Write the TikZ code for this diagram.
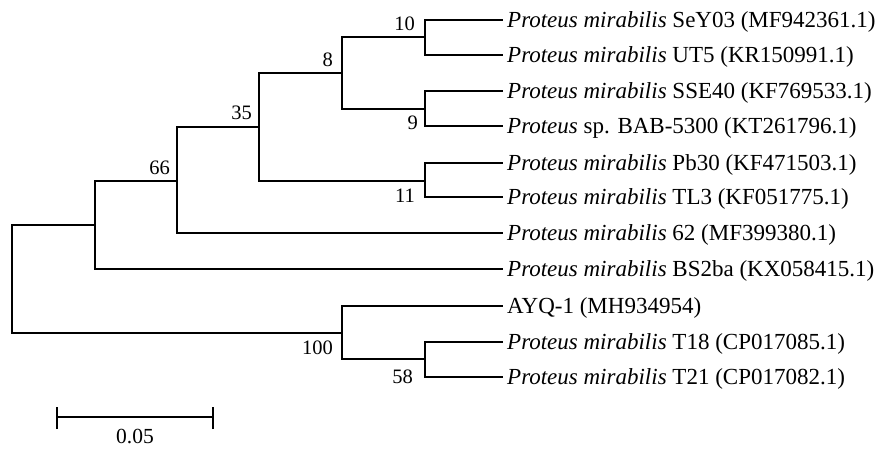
\documentclass[tikz,border=0pt]{standalone}
\usepackage{fontspec}
\setmainfont{Liberation Serif}
\begin{document}
\begin{tikzpicture}[x=1pt,y=-1pt,
  br/.style={line width=1.4pt, line cap=rect},
  leaf/.style={anchor=west, inner xsep=5pt, inner ysep=0pt, text height=15pt, text depth=0pt, font=\fontsize{23}{27}\selectfont},
  boot/.style={anchor=east, inner sep=0pt, font=\fontsize{20.5}{24}\selectfont}]
\useasboundingbox (0,0) rectangle (881,448);
% internal nodes
\coordinate (R) at (12,279);
\coordinate (A) at (95,225);
\coordinate (B) at (177,181);
\coordinate (C) at (259,127);
\coordinate (D) at (342,73);
\coordinate (E) at (425,37);
\coordinate (F) at (425,109);
\coordinate (G) at (425,181);
\coordinate (H) at (342,333);
\coordinate (I) at (425,359);
% leaves
\node[leaf] (l1) at (502,20) {\textit{Proteus mirabilis} SeY03 (MF942361.1)};
\node[leaf] (l2) at (502,55) {\textit{Proteus mirabilis} UT5 (KR150991.1)};
\node[leaf] (l3) at (502,91) {\textit{Proteus mirabilis} SSE40 (KF769533.1)};
\node[leaf] (l4) at (502,126) {\textit{Proteus} sp. BAB-5300 (KT261796.1)};
\node[leaf] (l5) at (502,163) {\textit{Proteus mirabilis} Pb30 (KF471503.1)};
\node[leaf] (l6) at (502,197) {\textit{Proteus mirabilis} TL3 (KF051775.1)};
\node[leaf] (l7) at (502,233) {\textit{Proteus mirabilis} 62 (MF399380.1)};
\node[leaf] (l8) at (502,269) {\textit{Proteus mirabilis} BS2ba (KX058415.1)};
\node[leaf] (l9) at (502,306) {AYQ-1 (MH934954)};
\node[leaf] (l10) at (502,342) {\textit{Proteus mirabilis} T18 (CP017085.1)};
\node[leaf] (l11) at (502,377) {\textit{Proteus mirabilis} T21 (CP017082.1)};
% branches
\draw[br] (R) |- (A);
\draw[br] (R) |- (H);
\draw[br] (A) |- (B);
\draw[br] (A) |- (l8.west);
\draw[br] (B) |- (C);
\draw[br] (B) |- (l7.west);
\draw[br] (C) |- (D);
\draw[br] (C) |- (G);
\draw[br] (D) |- (E);
\draw[br] (D) |- (F);
\draw[br] (E) |- (l1.west);
\draw[br] (E) |- (l2.west);
\draw[br] (F) |- (l3.west);
\draw[br] (F) |- (l4.west);
\draw[br] (G) |- (l5.west);
\draw[br] (G) |- (l6.west);
\draw[br] (H) |- (l9.west);
\draw[br] (H) |- (I);
\draw[br] (I) |- (l10.west);
\draw[br] (I) |- (l11.west);
% bootstrap values
\node[boot] (b10) at (415,24) {10};
\node[boot] (b8) at (333,60) {8};
\node[boot] (b35) at (252,113) {35};
\node[boot] (b66) at (170,168) {66};
\node[boot] (b9) at (418,123) {9};
\node[boot] (b11) at (415,196) {11};
\node[boot] (b100) at (333,348) {100};
\node[boot] (b58) at (413,377) {58};
% scale bar
\coordinate (s1) at (57,417);
\coordinate (s2) at (213,417);
\draw[line width=1.3pt] (s1) -- (s2);
\draw[line width=1.3pt] ([yshift=-12pt]s1) -- ([yshift=10pt]s1);
\draw[line width=1.3pt] ([yshift=-12pt]s2) -- ([yshift=10pt]s2);
\node[inner sep=0pt, font=\fontsize{21.5}{25}\selectfont] (sl) at (135,436) {0.05};
\end{tikzpicture}
\end{document}
